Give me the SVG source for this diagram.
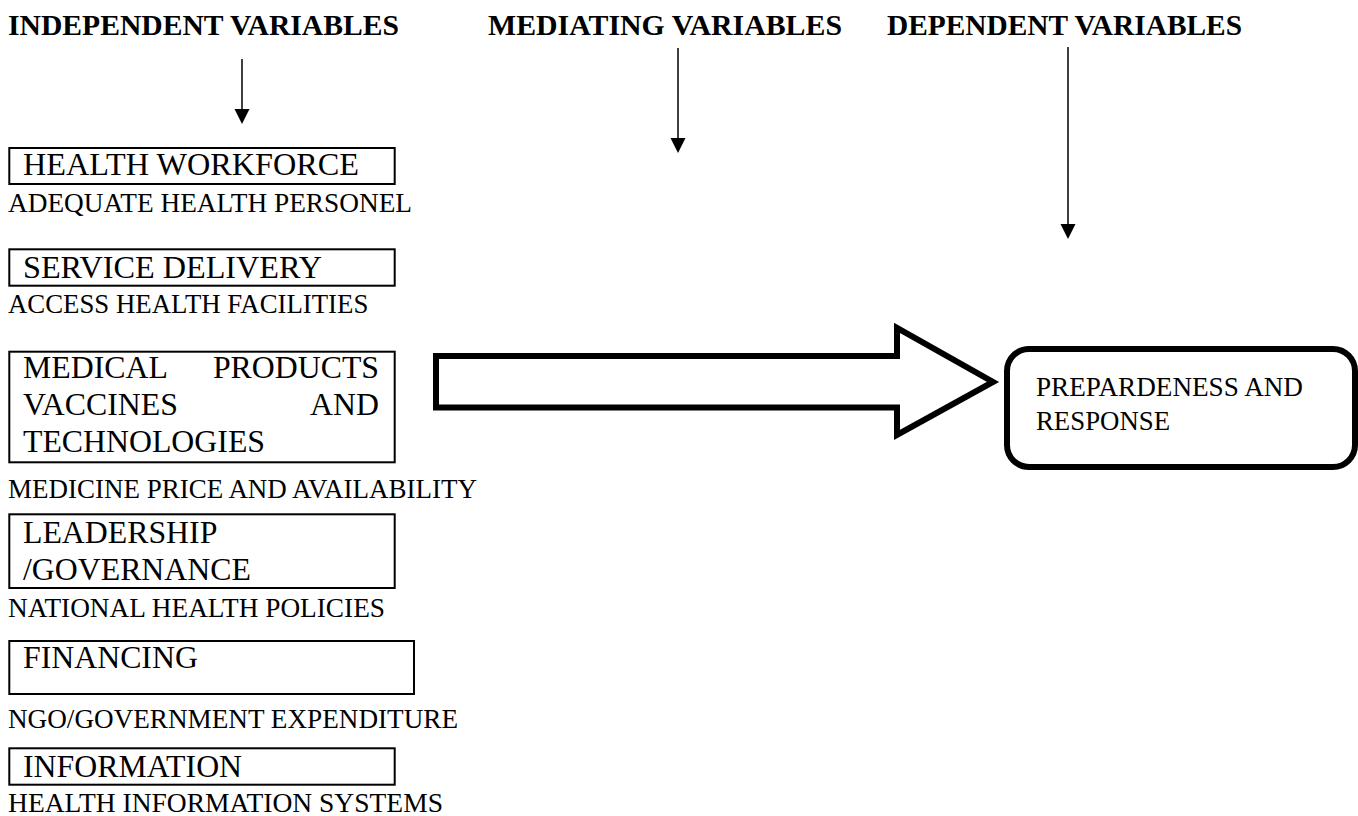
<svg xmlns="http://www.w3.org/2000/svg" width="1358" height="816" viewBox="0 0 1358 816">
<style>
.hd{font-family:"Liberation Serif","Times New Roman",serif;font-weight:bold;font-size:29.3px;fill:#000}
.bx{font-family:"Liberation Serif","Times New Roman",serif;font-size:31.8px;fill:#000}
.sb{font-family:"Liberation Serif","Times New Roman",serif;font-size:26.8px;fill:#000}
.box{fill:none;stroke:#000;stroke-width:2}
.thin{stroke:#000;stroke-width:1.5;fill:none}
</style>
<defs>
<marker id="ah" markerUnits="userSpaceOnUse" markerWidth="16" markerHeight="16" viewBox="0 0 16 16" refX="0" refY="8" orient="auto">
<path d="M0,0.5 L15,8 L0,15.5 Z" fill="#000"/>
</marker>
</defs>
<rect width="1358" height="816" fill="#fff"/>

<g id="headings">
<text class="hd" x="8" y="35" textLength="391" lengthAdjust="spacingAndGlyphs">INDEPENDENT VARIABLES</text>
<text class="hd" x="488" y="35" textLength="354" lengthAdjust="spacingAndGlyphs">MEDIATING VARIABLES</text>
<text class="hd" x="887" y="35" textLength="355" lengthAdjust="spacingAndGlyphs">DEPENDENT VARIABLES</text>
</g>

<g id="connectors">
<line class="thin" x1="242" y1="59" x2="242" y2="109" marker-end="url(#ah)"/>
<line class="thin" x1="678" y1="48" x2="678" y2="138" marker-end="url(#ah)"/>
<line class="thin" x1="1068" y1="47" x2="1068" y2="224" marker-end="url(#ah)"/>
<polygon id="big-arrow" points="436,356 897,356 897,328 993,382 897,435 897,407.5 436,407.5" fill="#fff" stroke="#000" stroke-width="6" stroke-miterlimit="10"/>
</g>

<g id="health-workforce">
<rect class="box" x="9.3" y="148" width="385.4" height="36"/>
<text class="bx" x="23" y="175" textLength="336" lengthAdjust="spacingAndGlyphs">HEALTH WORKFORCE</text>
<text class="sb" x="8" y="212" textLength="404" lengthAdjust="spacingAndGlyphs">ADEQUATE HEALTH PERSONEL</text>
</g>

<g id="service-delivery">
<rect class="box" x="9.3" y="249.3" width="385.4" height="36.4"/>
<text class="bx" x="23" y="278" textLength="299" lengthAdjust="spacingAndGlyphs">SERVICE DELIVERY</text>
<text class="sb" x="8" y="313">ACCESS HEALTH FACILITIES</text>
</g>

<g id="medical-products">
<rect class="box" x="9.3" y="351.7" width="385.4" height="110.6"/>
<text class="bx" x="23" y="378">MEDICAL</text>
<text class="bx" x="379" y="378" text-anchor="end">PRODUCTS</text>
<text class="bx" x="23" y="415">VACCINES</text>
<text class="bx" x="379" y="415" text-anchor="end">AND</text>
<text class="bx" x="23" y="452">TECHNOLOGIES</text>
<text class="sb" x="8" y="498" textLength="469" lengthAdjust="spacingAndGlyphs">MEDICINE PRICE AND AVAILABILITY</text>
</g>

<g id="leadership">
<rect class="box" x="9.3" y="514.3" width="385.4" height="73.7"/>
<text class="bx" x="23" y="543">LEADERSHIP</text>
<text class="bx" x="23" y="580">/GOVERNANCE</text>
<text class="sb" x="8" y="617" textLength="377" lengthAdjust="spacingAndGlyphs">NATIONAL HEALTH POLICIES</text>
</g>

<g id="financing">
<rect class="box" x="9.3" y="641" width="404.7" height="53"/>
<text class="bx" x="23" y="668">FINANCING</text>
<text class="sb" x="8" y="728" textLength="450" lengthAdjust="spacingAndGlyphs">NGO/GOVERNMENT EXPENDITURE</text>
</g>

<g id="information">
<rect class="box" x="9.3" y="748.3" width="385.4" height="36.4"/>
<text class="bx" x="23" y="777">INFORMATION</text>
<text class="sb" x="8" y="812" textLength="435" lengthAdjust="spacingAndGlyphs">HEALTH INFORMATION SYSTEMS</text>
</g>

<g id="preparedness">
<rect x="1007" y="349" width="348" height="118" rx="22" ry="22" fill="#fff" stroke="#000" stroke-width="6"/>
<text class="sb" x="1036" y="396" textLength="267" lengthAdjust="spacingAndGlyphs">PREPARDENESS AND</text>
<text class="sb" x="1036" y="430">RESPONSE</text>
</g>
</svg>
